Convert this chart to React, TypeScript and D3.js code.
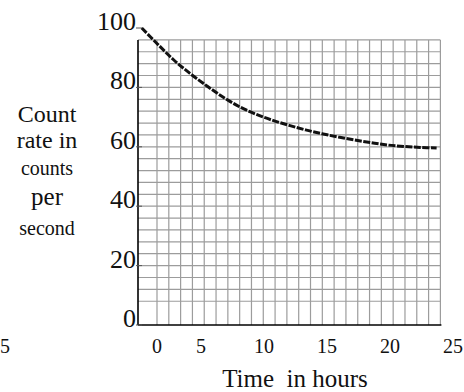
import * as d3 from "d3"

// values
const hours = [0.3, 1.5, 2.8, 4.1, 5.5, 6.8, 8.1, 9.4, 10.7, 12, 13.3, 14.6, 15.9, 17.2, 18.5, 19.8, 21.1, 22.4, 23.7]
const countRate = [100, 94.8, 89.4, 84.8, 80.4, 76.6, 73.4, 70.9, 68.9, 67.2, 65.7, 64.4, 63.3, 62.3, 61.4, 60.6, 60.1, 59.8, 59.6]

const xTicks = [0, 5, 10, 15, 20, 25]
const yTicks = [0, 20, 40, 60, 80, 100]
const yTitle = [
  { text: "Count", size: 24 },
  { text: "rate in", size: 24 },
  { text: "counts", size: 20 },
  { text: "per", size: 25 },
  { text: "second", size: 20 },
]
const yTitleBaselines = [122, 148, 175, 205, 235]

const W = 464
const H = 392
const font = "'Liberation Serif', 'Times New Roman', serif"

export default function App() {
  const x = d3.scaleLinear().domain([0, 25]).range([138, 453])
  const y = d3.scaleLinear().domain([0, 100]).range([325, 28])

  // grid paper: columns don't line up with the hour ticks in the scan
  const gridCol = d3.scaleLinear().domain([0, 24]).range([157, x(24)])
  const colLines = d3.range(0, 25).map((k) => gridCol(k))
  const rowLines = d3.range(8, 97, 4).map((v) => y(v))

  const points = hours.map((h, i) => [x(h), y(countRate[i])] as [number, number])
  const line = d3.line().curve(d3.curveCatmullRom.alpha(0.5))

  const gridTop = y(96)
  const gridRight = x(24)

  return (
    <svg width={W} height={H} style={{ position: "absolute", left: 0, top: 0, background: "#fff" }} fontFamily={font}>
      {/* grid */}
      <g stroke="#9c9c9c" strokeWidth={1.2} fill="none">
        {colLines.map((cx, i) => (
          <line key={"c" + i} x1={cx} x2={cx} y1={gridTop} y2={y(0)} />
        ))}
        {rowLines.map((ry, i) => (
          <line key={"r" + i} x1={x(0)} x2={gridRight} y1={ry} y2={ry} />
        ))}
      </g>

      {/* axes */}
      <line x1={x(0)} x2={x(0)} y1={gridTop} y2={y(0)} stroke="#000" strokeWidth={1.6} />
      <line x1={x(0)} x2={gridRight + 1} y1={y(0)} y2={y(0)} stroke="#000" strokeWidth={1.6} />

      {/* y ticks */}
      {yTicks.map((v) => (
        <g key={"yt" + v}>
          <line x1={x(0) - 2} x2={x(0) + 4} y1={y(v)} y2={y(v)} stroke="#555" strokeWidth={1} />
          <text x={136} y={y(v) + 2} textAnchor="end" fontSize={26} fill="#111">
            {v}
          </text>
        </g>
      ))}

      {/* x ticks, the 0 is nudged clear of the axis */}
      {xTicks.map((v, i) => (
        <text key={"xt" + v} x={x(v) + (i === 0 ? 19 : 0)} y={353} textAnchor="middle" fontSize={20} fill="#111">
          {v}
        </text>
      ))}
      <text x={0} y={353} textAnchor="start" fontSize={20} fill="#111">
        5
      </text>

      {/* titles */}
      <text x={295} y={387} textAnchor="middle" fontSize={25} fill="#111" style={{ whiteSpace: "pre" }}>
        {"Time  in hours"}
      </text>
      {yTitle.map((t, i) => (
        <text key={t.text} x={47} y={yTitleBaselines[i]} textAnchor="middle" fontSize={t.size} fill="#111">
          {t.text}
        </text>
      ))}

      {/* decay curve */}
      <path d={line(points) ?? ""} fill="none" stroke="#111" strokeWidth={3} strokeDasharray="7 1.5" strokeLinecap="butt" />
    </svg>
  )
}
